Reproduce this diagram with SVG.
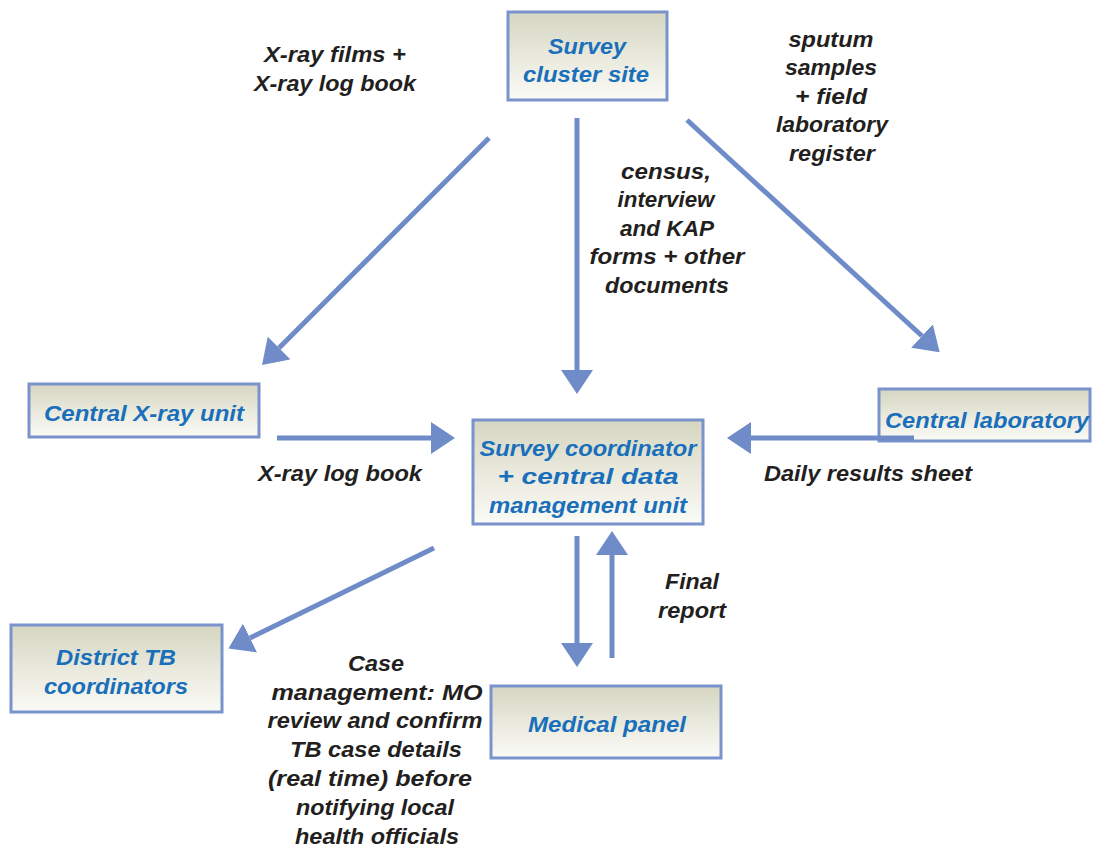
<svg xmlns="http://www.w3.org/2000/svg" width="1093" height="848" viewBox="0 0 1093 848">
  <style>
    .box { stroke: #7a93cc; stroke-width: 3; fill: url(#boxfill); }
    .lbl { font-family: "Liberation Sans", Arial, sans-serif; font-weight: bold; font-style: italic; font-size: 22px; fill: #1a6fba; text-anchor: middle; }
    .note { font-family: "Liberation Sans", Arial, sans-serif; font-weight: bold; font-style: italic; font-size: 22px; fill: #231f20; text-anchor: middle; }
    .conn { stroke: #6f8cc8; stroke-width: 5; fill: none; marker-end: url(#head); }
  </style>
  <defs>
    <linearGradient id="boxfill" x1="0" y1="0" x2="0" y2="1">
      <stop offset="0" stop-color="#d6d6c2"/>
      <stop offset="1" stop-color="#fbfbf7"/>
    </linearGradient>
    <marker id="head" markerUnits="userSpaceOnUse" viewBox="0 0 24 32" refX="0" refY="16" markerWidth="24" markerHeight="32" orient="auto">
      <path d="M0,0 L24,16 L0,32 Z" fill="#6f8cc8"/>
    </marker>
  </defs>

  <!-- nodes -->
  <g id="survey-cluster-site">
    <rect class="box" x="508" y="12" width="159" height="88"/>
    <text class="lbl" x="587" y="54" textLength="78" lengthAdjust="spacingAndGlyphs">Survey</text>
    <text class="lbl" x="586" y="82" textLength="126" lengthAdjust="spacingAndGlyphs">cluster site</text>
  </g>
  <g id="central-xray-unit">
    <rect class="box" x="29" y="384" width="230" height="53"/>
    <text class="lbl" x="144" y="421" textLength="200" lengthAdjust="spacingAndGlyphs">Central X-ray unit</text>
  </g>
  <g id="survey-coordinator">
    <rect class="box" x="473" y="420" width="230" height="104"/>
    <text class="lbl" x="588" y="456" textLength="217" lengthAdjust="spacingAndGlyphs">Survey coordinator</text>
    <text class="lbl" x="588" y="484" textLength="181" lengthAdjust="spacingAndGlyphs">+ central data</text>
    <text class="lbl" x="588" y="513" textLength="198" lengthAdjust="spacingAndGlyphs">management unit</text>
  </g>
  <g id="central-laboratory">
    <rect class="box" x="879" y="389" width="211" height="52"/>
    <text class="lbl" x="987" y="428" textLength="204" lengthAdjust="spacingAndGlyphs">Central laboratory</text>
  </g>
  <g id="district-tb-coordinators">
    <rect class="box" x="11" y="625" width="211" height="87"/>
    <text class="lbl" x="116" y="665" textLength="120" lengthAdjust="spacingAndGlyphs">District TB</text>
    <text class="lbl" x="116" y="694" textLength="144" lengthAdjust="spacingAndGlyphs">coordinators</text>
  </g>
  <g id="medical-panel">
    <rect class="box" x="491" y="686" width="230" height="72"/>
    <text class="lbl" x="607" y="732" textLength="158" lengthAdjust="spacingAndGlyphs">Medical panel</text>
  </g>

  <!-- connectors -->
  <g id="connectors">
    <line class="conn" x1="489" y1="138" x2="279" y2="348"/>
    <line class="conn" x1="577" y1="118" x2="577" y2="370"/>
    <line class="conn" x1="687" y1="120" x2="922" y2="336"/>
    <line class="conn" x1="277" y1="438" x2="431" y2="438"/>
    <line class="conn" x1="914" y1="438" x2="751" y2="438"/>
    <line class="conn" x1="434" y1="548" x2="250" y2="638"/>
    <line class="conn" x1="577" y1="536" x2="577" y2="643"/>
    <line class="conn" x1="612" y1="658" x2="612" y2="555"/>
  </g>

  <!-- connector labels -->
  <g id="labels">
    <text class="note" x="335" y="62" textLength="142" lengthAdjust="spacingAndGlyphs">X-ray films +</text>
    <text class="note" x="335" y="91" textLength="162" lengthAdjust="spacingAndGlyphs">X-ray log book</text>

    <text class="note" x="831" y="47" textLength="85" lengthAdjust="spacingAndGlyphs">sputum</text>
    <text class="note" x="831" y="75" textLength="92" lengthAdjust="spacingAndGlyphs">samples</text>
    <text class="note" x="831" y="104" textLength="72" lengthAdjust="spacingAndGlyphs">+ field</text>
    <text class="note" x="832" y="132" textLength="112" lengthAdjust="spacingAndGlyphs">laboratory</text>
    <text class="note" x="832" y="161" textLength="86" lengthAdjust="spacingAndGlyphs">register</text>

    <text class="note" x="666" y="179" textLength="90" lengthAdjust="spacingAndGlyphs">census,</text>
    <text class="note" x="666" y="207" textLength="97" lengthAdjust="spacingAndGlyphs">interview</text>
    <text class="note" x="667" y="236" textLength="94" lengthAdjust="spacingAndGlyphs">and KAP</text>
    <text class="note" x="667" y="264" textLength="155" lengthAdjust="spacingAndGlyphs">forms + other</text>
    <text class="note" x="667" y="293" textLength="124" lengthAdjust="spacingAndGlyphs">documents</text>

    <text class="note" x="340" y="481" textLength="164" lengthAdjust="spacingAndGlyphs">X-ray log book</text>
    <text class="note" x="868" y="481" textLength="208" lengthAdjust="spacingAndGlyphs">Daily results sheet</text>

    <text class="note" x="692" y="589" textLength="54" lengthAdjust="spacingAndGlyphs">Final</text>
    <text class="note" x="692" y="618" textLength="68" lengthAdjust="spacingAndGlyphs">report</text>

    <text class="note" x="376" y="671" textLength="56" lengthAdjust="spacingAndGlyphs">Case</text>
    <text class="note" x="377" y="700" textLength="211" lengthAdjust="spacingAndGlyphs">management: MO</text>
    <text class="note" x="375" y="728" textLength="215" lengthAdjust="spacingAndGlyphs">review and confirm</text>
    <text class="note" x="376" y="757" textLength="172" lengthAdjust="spacingAndGlyphs">TB case details</text>
    <text class="note" x="370" y="786" textLength="204" lengthAdjust="spacingAndGlyphs">(real time) before</text>
    <text class="note" x="375" y="815" textLength="158" lengthAdjust="spacingAndGlyphs">notifying local</text>
    <text class="note" x="377" y="844" textLength="164" lengthAdjust="spacingAndGlyphs">health officials</text>
  </g>
</svg>
